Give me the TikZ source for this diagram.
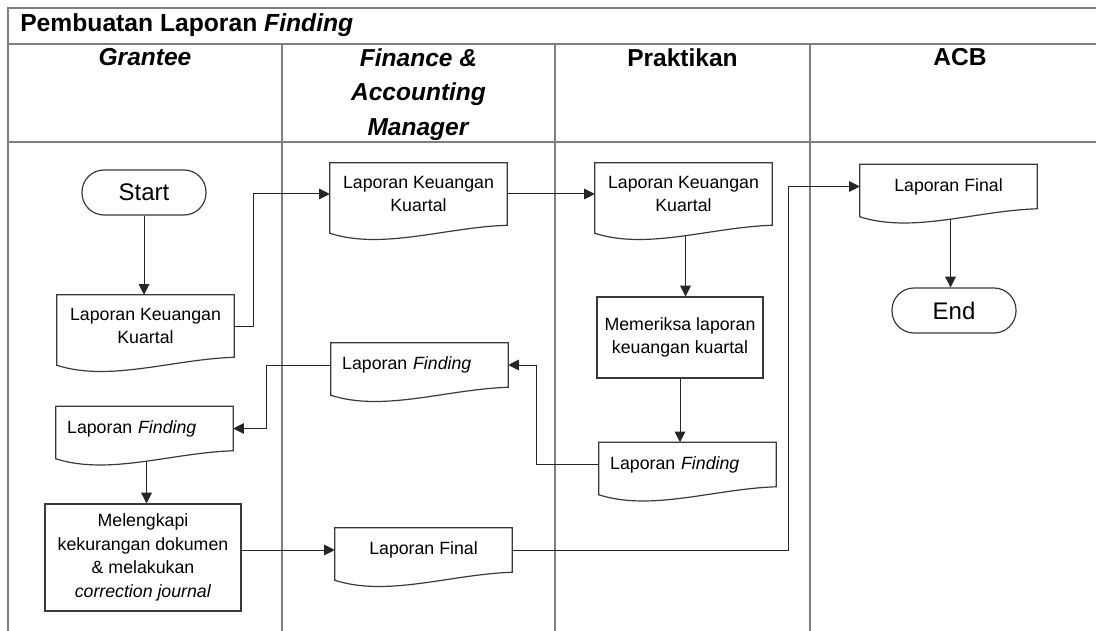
\documentclass[tikz,border=0pt]{standalone}
\usepackage{fontspec}
\setmainfont{Liberation Sans}
\usepackage{tikz}
\usetikzlibrary{arrows.meta}
\definecolor{lanegray}{HTML}{7F7F7F}
\definecolor{edgegray}{HTML}{3A3A3A}

\begin{document}
\begin{tikzpicture}[
  x=0.75pt,y=-0.75pt,
  lane/.style={draw=lanegray,line width=1.4pt},
  head/.style={anchor=north,inner sep=0pt,align=center,font=\fontsize{18.4}{25.9}\selectfont\bfseries},
  term/.style={draw=edgegray,line width=0.9pt,rounded corners=16.5pt,minimum width=93pt,minimum height=33.75pt,font=\fontsize{18}{22}\selectfont},
  proc/.style={draw=edgegray,line width=0.9pt,align=center,font=\fontsize{13.3}{17.8}\selectfont},
  doc/.style={minimum width=132.75pt,minimum height=#1,align=center,font=\fontsize{13.3}{17.8}\selectfont},
  doc/.default=33pt,
  findtext/.style={text width=116pt,align=left},
  docline/.style={draw=edgegray,line width=0.9pt},
  arrow/.style={-{Triangle[length=8pt,width=8pt]},draw=black!85,line width=0.75pt}
]
\useasboundingbox (0,0) rectangle (1096,631);

% frame and swimlanes
\draw[lane] (1120,8) -- (8,8) -- (8,650);
\draw[lane] (8,44) -- (1120,44);
\draw[lane] (8,142) -- (1120,142);
\draw[lane] (282,44) -- (282,650);
\draw[lane] (555,44) -- (555,650);
\draw[lane] (810,44) -- (810,650);

\node[anchor=base west,inner sep=0pt,font=\fontsize{18.5}{22}\selectfont\bfseries] (title) at (20,32) {Pembuatan Laporan \textit{Finding}};
\node[head] (hGrantee) at (145,48) {\textit{Grantee}};
\node[head] (hFinance) at (418.5,48) {\textit{Finance \&}\\\textit{Accounting}\\\textit{Manager}};
\node[head] (hPraktikan) at (682.5,48) {Praktikan};
\node[head] (hACB) at (960,48) {ACB};

% steps
\node[term] (start) at (144,192.5) {Start};
\node[doc=46.5pt] (gLKK) at (145.5,326) {Laporan Keuangan\\Kuartal};
\node[doc=46.5pt] (fLKK) at (418.5,194) {Laporan Keuangan\\Kuartal};
\node[doc=46.5pt] (pLKK) at (683.5,194) {Laporan Keuangan\\Kuartal};
\node[proc,minimum width=124.5pt,minimum height=60.75pt] (pProc) at (680,337.5) {Memeriksa laporan\\keuangan kuartal};
\node[doc,findtext] (pFind) at (687.5,464.5) {Laporan \textit{Finding}};
\node[doc,findtext] (fFind) at (419.5,365) {Laporan \textit{Finding}};
\node[doc,findtext] (gFind) at (144.5,428.5) {Laporan \textit{Finding}};
\node[proc,minimum width=147pt,minimum height=80.25pt] (gProc) at (143,557.5) {Melengkapi\\kekurangan dokumen\\\& melakukan\\\textit{correction journal}};
\node[doc] (fFinal) at (423.5,550) {Laporan Final};
\node[doc] (aFinal) at (948.5,186.5) {Laporan Final};
\node[term] (stop) at (954,310.5) {End};

% document outlines with wavy bottom
\foreach \d in {gLKK,fLKK,pLKK,fFind,gFind,pFind,fFinal,aFinal}
  \draw[docline] (\d.north west) -- (\d.north east) -- (\d.south east)
    .. controls +(-62,2) and +(53,17) .. coordinate[pos=.47] (w\d) ([yshift=-6pt]\d.south west) -- cycle;

\draw[arrow] (start) -- (start |- gLKK.north);
\draw[arrow] (gLKK.east) -- ++(19,0) |- (fLKK.west);
\draw[arrow] (fLKK.east) -- (pLKK.west);
\draw[arrow] (wpLKK) -- (wpLKK |- pProc.north);
\draw[arrow] (pProc.south) -- (pProc.south |- pFind.north);
\draw[arrow] (pFind.west) -- ++(-62,0) |- (fFind.east);
\draw[arrow] (fFind.west) -- ++(-64,0) |- (gFind.east);
\draw[arrow] (wgFind) -- (wgFind |- gProc.north);
\draw[arrow] (gProc.east |- fFinal.west) -- (fFinal.west);
\draw[arrow] (fFinal.east) -- ++(276,0) |- (aFinal.west);
\draw[arrow] (waFinal) -- (waFinal |- stop.north);
\end{tikzpicture}
\end{document}
